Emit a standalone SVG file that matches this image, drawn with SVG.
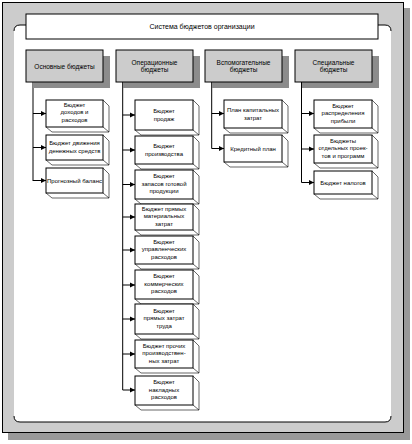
<svg xmlns="http://www.w3.org/2000/svg" width="412" height="444" viewBox="0 0 412 444">
<style>
text{font-family:"Liberation Sans",Arial,sans-serif;font-size:6px;fill:#000;text-anchor:middle}
.hdr{font-size:7px}
.ct{font-size:6.5px}
.cat{fill:#cccccc;stroke:#000;stroke-width:1}
.sh{fill:#8c8c8c}
.box{fill:#fff;stroke:#000;stroke-width:1}
.back{fill:none;stroke:#000;stroke-width:0.6}
.ln{fill:none;stroke:#000;stroke-width:1}
</style>
<defs>
<marker id="ah" markerUnits="userSpaceOnUse" markerWidth="6" markerHeight="6" refX="5" refY="3" orient="auto">
<path d="M0,0.5 L5,3 L0,5.5 z" fill="#000"/>
</marker>
</defs>
<g id="frame">
<rect x="8" y="8" width="402" height="432" fill="#999"/>
<rect x="2.5" y="2.5" width="401" height="430" fill="#cccccc" stroke="#000" stroke-width="1"/>
<rect x="14" y="25" width="377" height="397" rx="6" fill="#fff"/>
<path class="ln" d="M14,31 Q14,25 20,25 H27 M378,25 H385 Q391,25 391,31 M14,416 Q14,422 20,422 H385 Q391,422 391,416"/>
</g>
<g id="header">
<rect x="26" y="14" width="352" height="25" fill="#fff" stroke="#000" stroke-width="1"/>
<text class="hdr" x="202" y="29">Система бюджетов организации</text>
</g>
<g id="connectors">
<path class="ln" d="M33,82 V181 M122.7,82 V390 M211.7,82 V148.5"/>
<path class="ln" d="M301.5,82 V182.5" stroke-width="1.6"/>
<g marker-end="url(#ah)">
<path class="ln" d="M33,113.5 H46"/>
<path class="ln" d="M33,147.5 H46"/>
<path class="ln" d="M33,180.5 H46"/>
<path class="ln" d="M122.7,115 H135"/>
<path class="ln" d="M122.7,150 H135"/>
<path class="ln" d="M122.7,184.5 H135"/>
<path class="ln" d="M122.7,217 H135"/>
<path class="ln" d="M122.7,250 H135"/>
<path class="ln" d="M122.7,285 H135"/>
<path class="ln" d="M122.7,319 H135"/>
<path class="ln" d="M122.7,354 H135"/>
<path class="ln" d="M122.7,390 H135"/>
<path class="ln" d="M211.7,113.5 H224"/>
<path class="ln" d="M211.7,148.5 H224"/>
<path class="ln" d="M301.5,113.5 H314"/>
<path class="ln" d="M301.5,149 H314"/>
<path class="ln" d="M301.5,182.5 H314"/>
</g>
</g>
<g id="cat1"><rect class="sh" x="33" y="56" width="77" height="32"/><rect class="cat" x="26" y="50" width="77" height="32"/><text class="ct" x="64.5" y="68.5">Основные бюджеты</text></g>
<g id="cat2"><rect class="sh" x="123" y="56" width="77" height="32"/><rect class="cat" x="116" y="50" width="77" height="32"/><text class="ct" x="154.5" y="64.5">Операционные</text><text class="ct" x="154.5" y="72">бюджеты</text></g>
<g id="cat3"><rect class="sh" x="212" y="56" width="77" height="32"/><rect class="cat" x="205" y="50" width="77" height="32"/><text class="ct" x="243.5" y="64.5">Вспомогательные</text><text class="ct" x="243.5" y="72">бюджеты</text></g>
<g id="cat4"><rect class="sh" x="302" y="56" width="77" height="32"/><rect class="cat" x="295" y="50" width="77" height="32"/><text class="ct" x="333.5" y="64.5">Специальные</text><text class="ct" x="333.5" y="72">бюджеты</text></g>

<g id="b1-1"><path class="back" d="M103,100 L109,106 V132 H52 L46,127 M103,127 L109,132"/><rect class="box" x="46" y="100" width="57" height="27"/><text x="74.5" y="106.5">Бюджет</text><text x="74.5" y="114">доходов и</text><text x="74.5" y="121.5">расходов</text></g>
<g id="b1-2"><path class="back" d="M103,135 L109,141 V165 H52 L46,160 M103,160 L109,165"/><rect class="box" x="46" y="135" width="57" height="25"/><text x="74.5" y="145">Бюджет движения</text><text x="74.5" y="152.5">денежных средств</text></g>
<g id="b1-3"><path class="back" d="M103,168 L109,174 V198 H52 L46,193 M103,193 L109,198"/><rect class="box" x="46" y="168" width="57" height="25"/><text x="74.5" y="182.5">Прогнозный баланс</text></g>

<g id="b2-1"><path class="back" d="M193,100 L199,106 V135 H141 L135,130 M193,130 L199,135"/><rect class="box" x="135" y="100" width="58" height="30"/><text x="164" y="113">Бюджет</text><text x="164" y="120.5">продаж</text></g>
<g id="b2-2"><path class="back" d="M193,136 L199,142 V169 H141 L135,164 M193,164 L199,169"/><rect class="box" x="135" y="136" width="58" height="28"/><text x="164" y="148">Бюджет</text><text x="164" y="155.5">производства</text></g>
<g id="b2-3"><path class="back" d="M193,170 L199,176 V204 H141 L135,199 M193,199 L199,204"/><rect class="box" x="135" y="170" width="58" height="29"/><text x="164" y="178">Бюджет</text><text x="164" y="185.5">запасов готовой</text><text x="164" y="193">продукции</text></g>
<g id="b2-4"><path class="back" d="M193,204 L199,210 V235 H141 L135,230 M193,230 L199,235"/><rect class="box" x="135" y="204" width="58" height="26"/><text x="164" y="210.5">Бюджет прямых</text><text x="164" y="218">материальных</text><text x="164" y="225.5">затрат</text></g>
<g id="b2-5"><path class="back" d="M193,236 L199,242 V269 H141 L135,264 M193,264 L199,269"/><rect class="box" x="135" y="236" width="58" height="28"/><text x="164" y="243.5">Бюджет</text><text x="164" y="251">управленческих</text><text x="164" y="258.5">расходов</text></g>
<g id="b2-6"><path class="back" d="M193,270 L199,276 V304 H141 L135,299 M193,299 L199,304"/><rect class="box" x="135" y="270" width="58" height="29"/><text x="164" y="278">Бюджет</text><text x="164" y="285.5">коммерческих</text><text x="164" y="293">расходов</text></g>
<g id="b2-7"><path class="back" d="M193,304 L199,310 V339 H141 L135,334 M193,334 L199,339"/><rect class="box" x="135" y="304" width="58" height="30"/><text x="164" y="312.5">Бюджет</text><text x="164" y="320">прямых затрат</text><text x="164" y="327.5">труда</text></g>
<g id="b2-8"><path class="back" d="M193,340 L199,346 V373 H141 L135,368 M193,368 L199,373"/><rect class="box" x="135" y="340" width="58" height="28"/><text x="164" y="347.5">Бюджет прочих</text><text x="164" y="355">производствен-</text><text x="164" y="362.5">ных затрат</text></g>
<g id="b2-9"><path class="back" d="M193,376 L199,382 V410 H141 L135,405 M193,405 L199,410"/><rect class="box" x="135" y="376" width="58" height="29"/><text x="164" y="384">Бюджет</text><text x="164" y="391.5">накладных</text><text x="164" y="399">расходов</text></g>

<g id="b3-1"><path class="back" d="M282,100 L288,106 V133 H230 L224,128 M282,128 L288,133"/><rect class="box" x="224" y="100" width="58" height="28"/><text x="253" y="112">План капитальных</text><text x="253" y="119.5">затрат</text></g>
<g id="b3-2"><path class="back" d="M282,135 L288,141 V167 H230 L224,162 M282,162 L288,167"/><rect class="box" x="224" y="135" width="58" height="27"/><text x="253" y="150.5">Кредитный план</text></g>

<g id="b4-1"><path class="back" d="M372,100 L378,106 V133 H320 L314,128 M372,128 L378,133"/><rect class="box" x="314" y="100" width="58" height="28"/><text x="343" y="107.5">Бюджет</text><text x="343" y="115">распределения</text><text x="343" y="122.5">прибыли</text></g>
<g id="b4-2"><path class="back" d="M372,135 L378,141 V168 H320 L314,163 M372,163 L378,168"/><rect class="box" x="314" y="135" width="58" height="28"/><text x="343" y="142.5">Бюджеты</text><text x="343" y="150">отдельных проек-</text><text x="343" y="157.5">тов и программ</text></g>
<g id="b4-3"><path class="back" d="M372,171 L378,177 V199 H320 L314,194 M372,194 L378,199"/><rect class="box" x="314" y="171" width="58" height="23"/><text x="343" y="184.5">Бюджет налогов</text></g>
</svg>
